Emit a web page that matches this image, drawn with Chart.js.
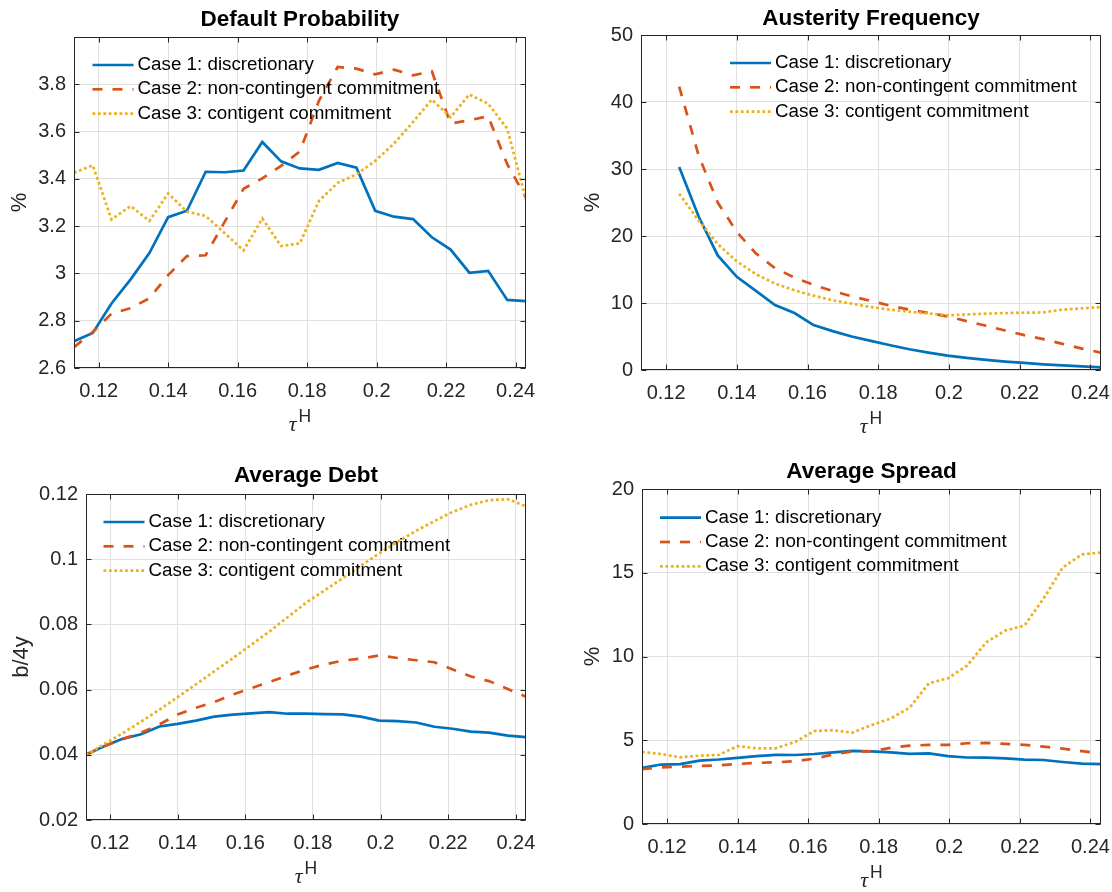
<!DOCTYPE html>
<html>
<head>
<meta charset="utf-8">
<script src="https://cdn.jsdelivr.net/npm/chart.js@4.4.1/dist/chart.umd.min.js"></script>
<style>
  body { margin: 0; background: #fff; }
  #fig { position: relative; width: 1112px; height: 892px; }
  .panel { position: absolute; width: 556px; height: 446px; }
</style>
</head>
<body>
<div id="fig">
  <div class="panel" style="left:0;top:0"><canvas id="defaultProb" width="556" height="446"></canvas></div>
  <div class="panel" style="left:556px;top:0"><canvas id="austerity" width="556" height="446"></canvas></div>
  <div class="panel" style="left:0;top:446px"><canvas id="debt" width="556" height="446"></canvas></div>
  <div class="panel" style="left:556px;top:446px"><canvas id="spread" width="556" height="446"></canvas></div>
</div>
<script>
// tax rate grid (tau^H)
const tau = [0.1129, 0.1183, 0.1237, 0.1292, 0.1346, 0.1400, 0.1454, 0.1508, 0.1563, 0.1617,
  0.1671, 0.1725, 0.1779, 0.1834, 0.1888, 0.1942, 0.1996, 0.2050, 0.2105, 0.2159,
  0.2213, 0.2267, 0.2321, 0.2376, 0.2430];

const caseLabels = ['Case 1: discretionary', 'Case 2: non-contingent commitment', 'Case 3: contigent commitment'];

const defaultCase1 = [2.713, 2.748, 2.873, 2.975, 3.086, 3.238, 3.265, 3.430, 3.428, 3.435, 3.556, 3.474, 3.444, 3.438, 3.467, 3.447, 3.265, 3.240, 3.230, 3.153, 3.101, 3.003, 3.011, 2.888, 2.883];
const defaultCase2 = [2.688, 2.752, 2.830, 2.853, 2.895, 2.993, 3.073, 3.077, 3.219, 3.358, 3.402, 3.455, 3.516, 3.730, 3.873, 3.866, 3.842, 3.862, 3.838, 3.855, 3.634, 3.648, 3.665, 3.462, 3.320];
const defaultCase3 = [3.426, 3.457, 3.228, 3.285, 3.222, 3.338, 3.261, 3.243, 3.170, 3.097, 3.232, 3.116, 3.127, 3.307, 3.383, 3.419, 3.476, 3.549, 3.641, 3.735, 3.661, 3.757, 3.718, 3.612, 3.312];

const austerityCase1 = [null, null, 30.3, 22.9, 17.1, 13.9, 11.8, 9.7, 8.5, 6.7, 5.8, 5.0, 4.35, 3.7, 3.1, 2.6, 2.15, 1.8, 1.5, 1.25, 1.05, 0.85, 0.7, 0.55, 0.4];
const austerityCase2 = [null, null, 42.3, 32.0, 25.0, 20.6, 17.4, 15.2, 13.8, 12.7, 11.8, 11.0, 10.3, 9.6, 9.0, 8.5, 8.0, 7.3, 6.6, 5.9, 5.2, 4.6, 3.9, 3.2, 2.6];
const austerityCase3 = [null, null, 26.3, 22.3, 18.8, 16.2, 14.3, 12.9, 11.9, 11.1, 10.4, 9.9, 9.4, 9.0, 8.7, 8.45, 8.15, 8.3, 8.4, 8.5, 8.55, 8.6, 9.0, 9.2, 9.4];

const debtCase1 = [0.0401, 0.0426, 0.0449, 0.0463, 0.0487, 0.0495, 0.0505, 0.0517, 0.0523, 0.0527, 0.0531, 0.0526, 0.0526, 0.0525, 0.0524, 0.0517, 0.0505, 0.0503, 0.0499, 0.0486, 0.0480, 0.0471, 0.0468, 0.0459, 0.0454];
const debtCase2 = [0.0399, 0.0427, 0.0448, 0.0468, 0.0493, 0.0524, 0.0544, 0.0562, 0.0585, 0.0604, 0.0623, 0.0643, 0.0662, 0.0677, 0.0689, 0.0695, 0.0705, 0.0697, 0.0690, 0.0684, 0.0662, 0.0640, 0.0626, 0.0602, 0.0578];
const debtCase3 = [0.0398, 0.0433, 0.0466, 0.0502, 0.0538, 0.0577, 0.0616, 0.0656, 0.0696, 0.0737, 0.0778, 0.0822, 0.0866, 0.0904, 0.0942, 0.0980, 0.1018, 0.1053, 0.1087, 0.1117, 0.1145, 0.1167, 0.1181, 0.1184, 0.1162];

const spreadCase1 = [3.35, 3.55, 3.58, 3.78, 3.85, 3.95, 4.05, 4.13, 4.12, 4.18, 4.28, 4.37, 4.33, 4.28, 4.19, 4.22, 4.05, 3.97, 3.96, 3.92, 3.84, 3.82, 3.70, 3.60, 3.58];
const spreadCase2 = [3.28, 3.38, 3.42, 3.47, 3.50, 3.58, 3.65, 3.68, 3.75, 3.90, 4.15, 4.33, 4.33, 4.55, 4.68, 4.72, 4.72, 4.82, 4.84, 4.78, 4.72, 4.62, 4.50, 4.35, 4.22];
const spreadCase3 = [4.30, 4.18, 3.98, 4.08, 4.12, 4.65, 4.52, 4.52, 4.90, 5.55, 5.60, 5.45, 5.90, 6.30, 6.95, 8.40, 8.70, 9.45, 10.85, 11.55, 11.85, 13.45, 15.30, 16.10, 16.20];

const xTicks = [0.12, 0.14, 0.16, 0.18, 0.2, 0.22, 0.24];
const defaultTicks = [2.6, 2.8, 3, 3.2, 3.4, 3.6, 3.8];
const austerityTicks = [0, 10, 20, 30, 40, 50];
const debtTicks = [0.02, 0.04, 0.06, 0.08, 0.1, 0.12];
const spreadTicks = [0, 5, 10, 15, 20];

const FONT = "'Liberation Sans', Arial, Helvetica, sans-serif";
const axisColor = '#262626';
const gridColor = '#e0e0e0';
const lineStyles = [
  { color: '#0072BD', dash: [] },
  { color: '#D95319', dash: [10, 10] },
  { color: '#EDB120', dash: [2.8, 2.6] }
];

const fmt = v => String(+Number(v).toFixed(4));

// box, inward tick marks, legend without frame, and axis labels
const matlabAxes = {
  id: 'matlabAxes',
  afterDraw(chart, args, opts) {
    const { ctx, chartArea: a, scales } = chart;
    ctx.save();

    // legend
    ctx.font = '18.8px ' + FONT;
    ctx.textBaseline = 'middle';
    ctx.textAlign = 'left';
    chart.data.datasets.forEach((ds, i) => {
      const y = a.top + opts.legendY + i * 24.3;
      const x0 = a.left + opts.legendX;
      ctx.strokeStyle = ds.borderColor;
      ctx.lineWidth = ds.borderWidth;
      ctx.setLineDash(ds.borderDash || []);
      ctx.beginPath();
      ctx.moveTo(x0, y);
      ctx.lineTo(x0 + 41, y);
      ctx.stroke();
      ctx.setLineDash([]);
      ctx.fillStyle = '#000';
      ctx.fillText(ds.label, x0 + 45, y);
    });

    // axes box
    const L = Math.round(a.left) + 0.5, R = Math.round(a.right) - 0.5;
    const T = Math.round(a.top) + 0.5, B = Math.round(a.bottom) - 0.5;
    ctx.strokeStyle = axisColor;
    ctx.lineWidth = 1;
    ctx.strokeRect(L, T, R - L, B - T);

    // tick marks on all four sides
    const tl = 5;
    ctx.beginPath();
    scales.x.ticks.forEach(t => {
      const px = Math.round(scales.x.getPixelForValue(t.value)) + 0.5;
      ctx.moveTo(px, B); ctx.lineTo(px, B - tl);
      ctx.moveTo(px, T); ctx.lineTo(px, T + tl);
    });
    scales.y.ticks.forEach(t => {
      const py = Math.round(scales.y.getPixelForValue(t.value)) + 0.5;
      ctx.moveTo(L, py); ctx.lineTo(L + tl, py);
      ctx.moveTo(R, py); ctx.lineTo(R - tl, py);
    });
    ctx.stroke();

    // y label
    ctx.fillStyle = axisColor;
    ctx.font = '22px ' + FONT;
    ctx.textAlign = 'center';
    ctx.textBaseline = 'middle';
    ctx.save();
    ctx.translate(opts.yLabelX, (a.top + a.bottom) / 2);
    ctx.rotate(-Math.PI / 2);
    ctx.fillText(opts.yLabel, 0, 0);
    ctx.restore();

    // x label: tau with superscript H
    const cx = (a.left + a.right) / 2;
    const tauFont = 'italic 22px ' + "'Liberation Serif', serif";
    const supFont = '17.5px ' + FONT;
    ctx.font = tauFont;
    const w1 = ctx.measureText('τ').width + 2;
    ctx.font = supFont;
    const w2 = ctx.measureText('H').width;
    const x0 = cx - (w1 + w2) / 2;
    ctx.textAlign = 'left';
    ctx.textBaseline = 'alphabetic';
    ctx.font = tauFont;
    ctx.fillText('τ', x0, a.bottom + 63);
    ctx.font = supFont;
    ctx.fillText('H', x0 + w1, a.bottom + 54);

    ctx.restore();
  }
};

function makeDatasets(series) {
  return series.map((vals, i) => ({
    label: caseLabels[i],
    data: tau.map((x, k) => ({ x, y: vals[k] })),
    borderColor: lineStyles[i].color,
    borderDash: lineStyles[i].dash,
    borderWidth: 2.7,
    borderCapStyle: 'butt',
    pointRadius: 0,
    fill: false,
    tension: 0,
    spanGaps: false,
    order: 3 - i
  }));
}

function makeChart(id, p) {
  const tickFont = { family: FONT, size: 20 };
  new Chart(document.getElementById(id), {
    type: 'line',
    data: { datasets: makeDatasets(p.series) },
    options: {
      responsive: false,
      animation: false,
      layout: { padding: { left: 0, top: 0, right: 556 - p.area.r, bottom: 0 } },
      plugins: {
        legend: { display: false },
        tooltip: { enabled: false },
        title: {
          display: true,
          text: p.title,
          fullSize: false,
          color: '#000',
          font: { family: FONT, size: 22.5, weight: 'bold' },
          padding: { top: p.titlePad[0], bottom: p.titlePad[1] }
        },
        matlabAxes: { legendX: p.legend[0], legendY: p.legend[1], yLabel: p.yLabel, yLabelX: p.yLabelX }
      },
      scales: {
        x: {
          type: 'linear',
          min: tau[0],
          max: tau[tau.length - 1],
          afterBuildTicks: axis => { axis.ticks = xTicks.map(value => ({ value })); },
          afterFit: s => { s.height = 446 - p.area.b; s.paddingLeft = 0; s.paddingRight = 0; },
          grid: { color: gridColor, drawTicks: false },
          border: { display: false },
          ticks: { color: axisColor, font: tickFont, padding: 11, maxRotation: 0, autoSkip: false, callback: fmt }
        },
        y: {
          type: 'linear',
          min: p.yMin,
          max: p.yMax,
          afterBuildTicks: axis => { axis.ticks = p.yTicks.map(value => ({ value })); },
          afterFit: s => { s.width = p.area.l; s.paddingTop = 0; s.paddingBottom = 0; },
          grid: { color: gridColor, drawTicks: false },
          border: { display: false },
          ticks: { color: axisColor, font: tickFont, padding: 8, autoSkip: false, callback: fmt }
        }
      }
    },
    plugins: [matlabAxes]
  });
}

makeChart('defaultProb', {
  title: 'Default Probability',
  series: [defaultCase1, defaultCase2, defaultCase3],
  yMin: 2.6, yMax: 4, yTicks: defaultTicks,
  area: { l: 74, r: 526, b: 368 }, titlePad: [6, 4],
  legend: [18.5, 28], yLabel: '%', yLabelX: 20
});

makeChart('austerity', {
  title: 'Austerity Frequency',
  series: [austerityCase1, austerityCase2, austerityCase3],
  yMin: 0, yMax: 50, yTicks: austerityTicks,
  area: { l: 85, r: 545, b: 370 }, titlePad: [5, 3],
  legend: [89, 28], yLabel: '%', yLabelX: 37
});

makeChart('debt', {
  title: 'Average Debt',
  series: [debtCase1, debtCase2, debtCase3],
  yMin: 0.02, yMax: 0.12, yTicks: debtTicks,
  area: { l: 86, r: 526, b: 374 }, titlePad: [16.5, 4.5],
  legend: [17.5, 28], yLabel: 'b/4y', yLabelX: 22
});

makeChart('spread', {
  title: 'Average Spread',
  series: [spreadCase1, spreadCase2, spreadCase3],
  yMin: 0, yMax: 20, yTicks: spreadTicks,
  area: { l: 86, r: 545, b: 378 }, titlePad: [12, 4],
  legend: [18, 28.7], yLabel: '%', yLabelX: 37
});
</script>
</body>
</html>
